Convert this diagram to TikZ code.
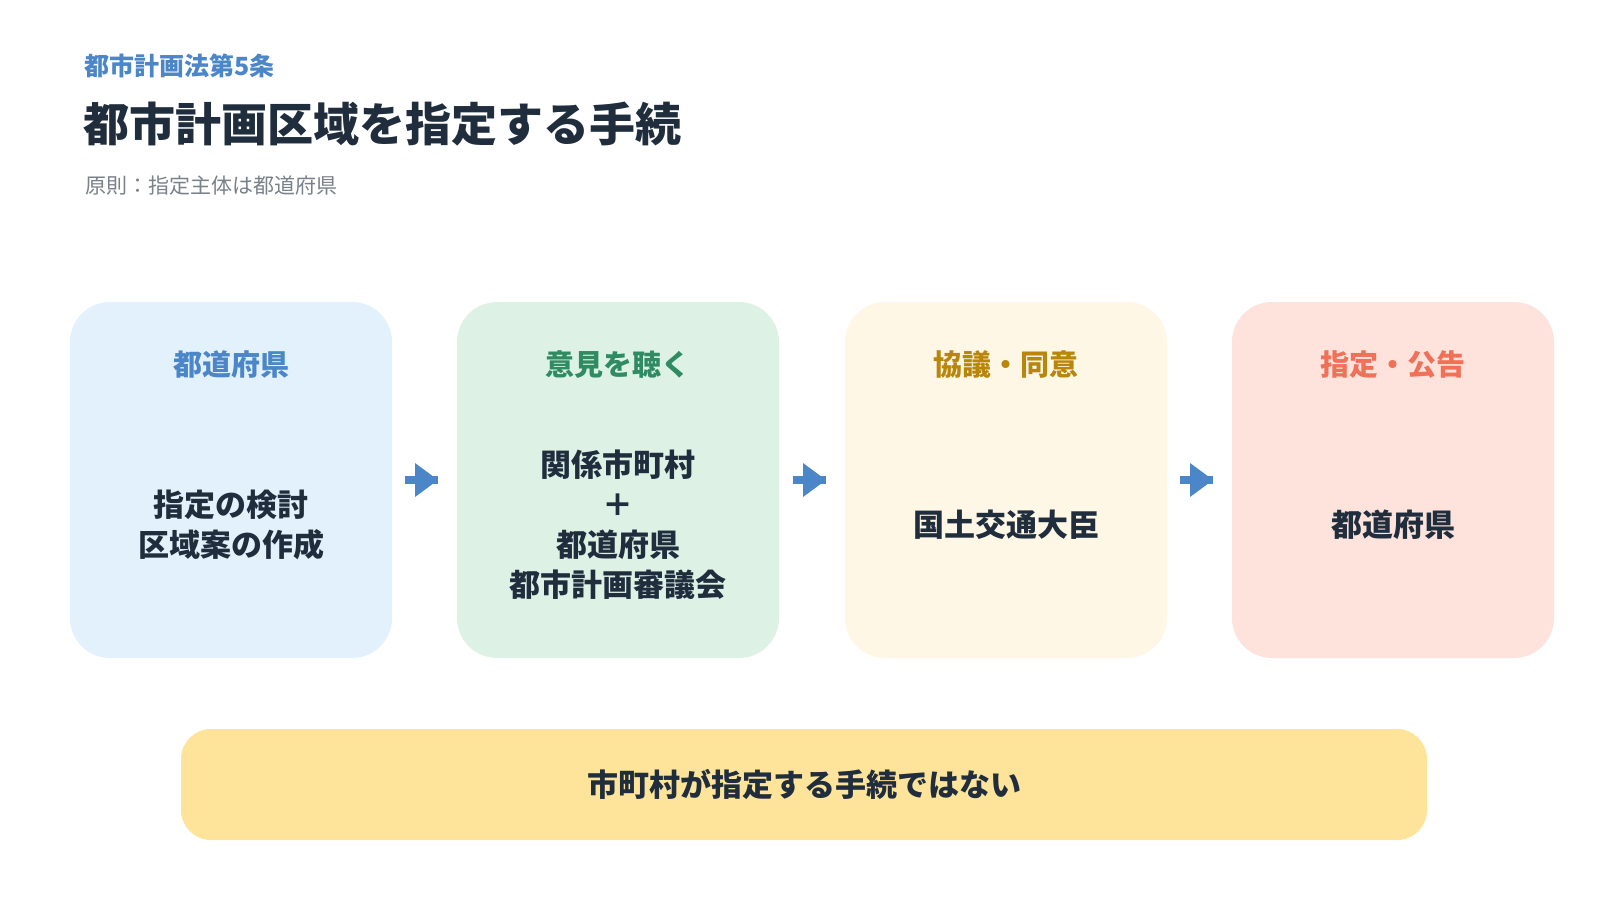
\documentclass[tikz,border=0pt]{standalone}
\usepackage{fontspec}
\setmainfont{Noto Sans CJK JP}
\newfontfamily\cjkb{Noto Sans CJK JP}[BoldFont={* Bold}]
\begin{document}
\begin{tikzpicture}[x=1pt,y=-1pt,
 box/.style={rounded corners=40pt,inner sep=0pt},
 hd/.style={font=\fontsize{29}{34}\selectfont\bfseries,anchor=center},
 bd/.style={font=\fontsize{31}{40}\selectfont\bfseries,align=center,text=dark,anchor=center},
 arr/.style={draw=ablue,line width=8pt}]
\definecolor{dark}{HTML}{1F2D3D}
\definecolor{ablue}{HTML}{4A86C8}
\fill[white] (0,0) rectangle (1600,900);
\useasboundingbox (0,0) rectangle (1600,900);
\node[anchor=west,text=ablue,font=\fontsize{25}{30}\selectfont\bfseries] (t0) at (81,66) {都市計画法第5条};
\node[anchor=west,text=dark,font=\fontsize{46}{52}\selectfont\bfseries] (t1) at (80,124) {都市計画区域を指定する手続};
\node[anchor=west,text=dark!60,font=\fontsize{21}{26}\selectfont] (t2) at (82,186) {原則：指定主体は都道府県};
\foreach \n/\x/\c in {b1/70/E3F1FC,b2/457/DDF2E5,b3/845/FFF7E6,b4/1232/FDE3DC}{
 \definecolor{tmp}{HTML}{\c}
 \fill[tmp,rounded corners=40pt] (\x,302) rectangle ++(322,356);
 \coordinate (\n) at (\x+161,480);
}
\definecolor{h1}{HTML}{4A86C8}\definecolor{h2}{HTML}{2E8B62}\definecolor{h3}{HTML}{B8860B}\definecolor{h4}{HTML}{F07058}
\node[hd,text=h1] (h1n) at (231,365) {都道府県};
\node[hd,text=h2] (h2n) at (618,365) {意見を聴く};
\node[hd,text=h3] (h3n) at (1006,365) {協議・同意};
\node[hd,text=h4] (h4n) at (1393,365) {指定・公告};
\node[bd] (m1) at (231,525) {指定の検討\\区域案の作成};
\node[bd] (m2) at (618,525) {関係市町村\\＋\\都道府県\\都市計画審議会};
\node[bd] (m3) at (1006,525) {国土交通大臣};
\node[bd] (m4) at (1393,525) {都道府県};
\foreach \a/\xa in {1/405,2/793,3/1180}{
 \coordinate (s\a) at (\xa,480);
 \coordinate (e\a) at (\xa+33,480);
 \draw[arr] (s\a) -- (e\a);
 \fill[ablue] (\xa+10,463) -- (\xa+33,480) -- (\xa+10,497) -- cycle;
}
\definecolor{bar}{HTML}{FDE49A}
\fill[bar,rounded corners=30pt] (181,729) rectangle (1427,840);
\node[font=\fontsize{31}{36}\selectfont\bfseries,text=dark] (bt) at (804,784) {市町村が指定する手続ではない};
\end{tikzpicture}
\end{document}
